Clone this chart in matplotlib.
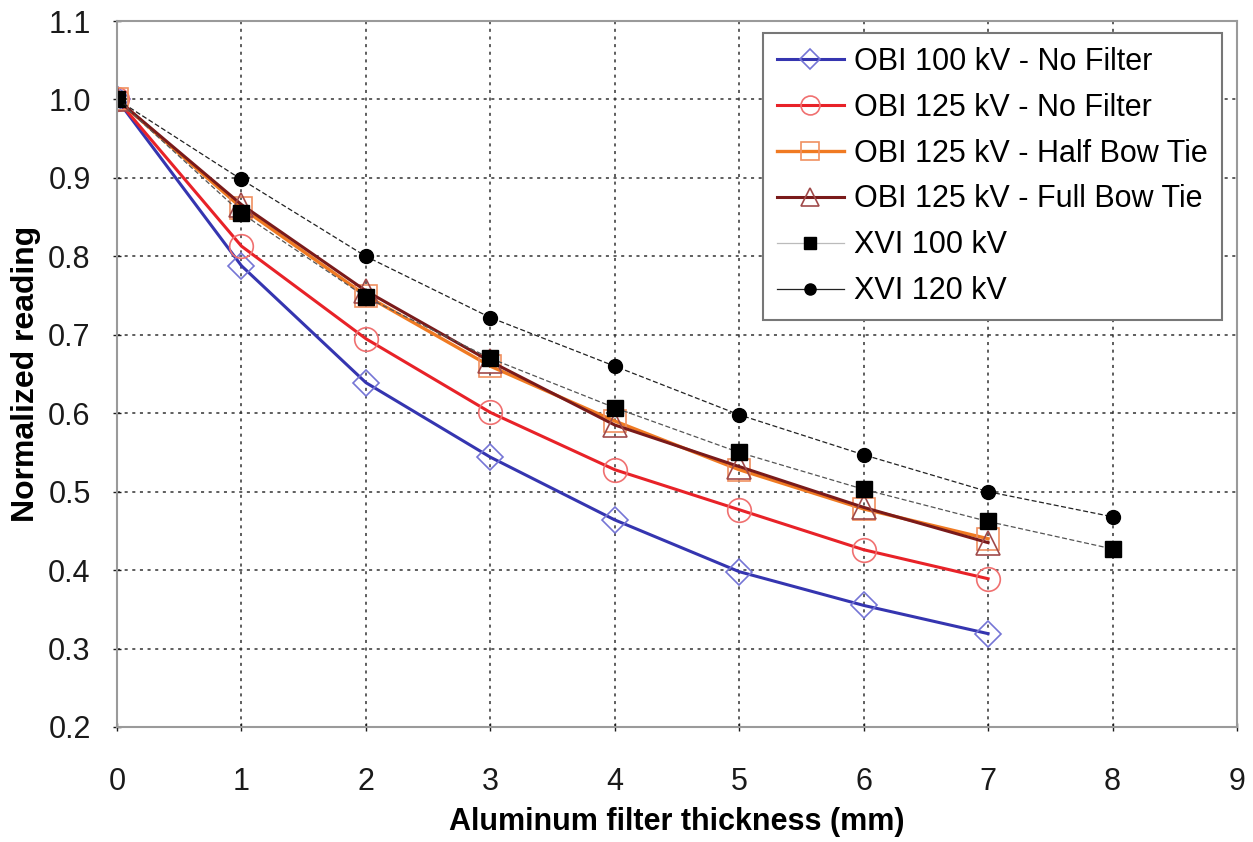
import numpy as np
import matplotlib.pyplot as plt
from matplotlib.ticker import FormatStrFormatter

plt.rcParams['font.family'] = ['Liberation Sans', 'DejaVu Sans']

# data
thickness_obi = [0, 1, 2, 3, 4, 5, 6, 7]
thickness_xvi = [0, 1, 2, 3, 4, 5, 6, 7, 8]

obi_100_nofilter = [1.0, 0.788, 0.639, 0.544, 0.464, 0.398, 0.355, 0.319]
obi_125_nofilter = [1.0, 0.813, 0.695, 0.601, 0.528, 0.477, 0.426, 0.389]
obi_125_halfbow = [1.0, 0.862, 0.750, 0.660, 0.590, 0.528, 0.478, 0.440]
obi_125_fullbow = [1.0, 0.866, 0.756, 0.666, 0.585, 0.532, 0.480, 0.435]
xvi_100 = [1.0, 0.855, 0.748, 0.670, 0.607, 0.550, 0.503, 0.462, 0.427]
xvi_120 = [1.0, 0.898, 0.800, 0.722, 0.660, 0.598, 0.547, 0.500, 0.468]

labels = [
    "OBI 100 kV - No Filter",
    "OBI 125 kV - No Filter",
    "OBI 125 kV - Half Bow Tie",
    "OBI 125 kV - Full Bow Tie",
    "XVI 100 kV",
    "XVI 120 kV",
]

fig = plt.figure(figsize=(12.53, 8.42), dpi=100)
ax = fig.add_axes([0.0934, 0.1366, 0.8938, 0.8384])

ax.plot(thickness_obi, obi_100_nofilter, color='#3535b0', lw=2.2,
        marker='D', ms=13, mfc='none', mec='#7575d5', mew=1.2, label=labels[0])
ax.plot(thickness_obi, obi_125_nofilter, color='#e82228', lw=2.2,
        marker='o', ms=17, mfc='none', mec='#f07070', mew=1.2, label=labels[1])
ax.plot(thickness_obi, obi_125_halfbow, color='#f07a22', lw=2.4,
        marker='s', ms=16, mfc='none', mec='#f09060', mew=1.2, label=labels[2])
ax.plot(thickness_obi, obi_125_fullbow, color='#7a1a1a', lw=2.2,
        marker='^', ms=17, mfc='none', mec='#a04a4a', mew=1.2, label=labels[3])
ax.plot(thickness_xvi, xvi_100, color='#555555', lw=0.9, ls=(0, (4, 2)),
        marker='s', ms=11, mfc='black', mec='black', label=labels[4])
ax.plot(thickness_xvi, xvi_120, color='#222222', lw=0.9, ls=(0, (4, 2)),
        marker='o', ms=10, mfc='black', mec='black', label=labels[5])

ax.set_xlim(0, 9)
ax.set_ylim(0.2, 1.1)
ax.set_xticks(np.arange(0, 10, 1))
ax.set_yticks(np.arange(0.2, 1.11, 0.1))
ax.yaxis.set_major_formatter(FormatStrFormatter('%.1f'))
ax.tick_params(labelsize=22, colors='#1a1a1a', direction='inout', length=6,
               width=1)
ax.tick_params(axis='y', pad=16)
ax.tick_params(axis='x', pad=26)

ax.grid(True, color='#333333', ls=(0, (2, 3)), lw=1.1)
for s in ax.spines.values():
    s.set_color('#9a9a9a')
    s.set_linewidth(1.5)

ax.set_xlabel("Aluminum filter thickness (mm)", fontsize=22, fontweight='bold',
              labelpad=7)
ax.set_ylabel("Normalized reading", fontsize=23, fontweight='bold', labelpad=5)

leg = ax.legend(loc='upper right', bbox_to_anchor=(0.9866, 0.983),
                borderaxespad=0, fontsize=22, fancybox=False, framealpha=1,
                edgecolor='#777777', handlelength=2.2, labelspacing=0.52,
                borderpad=0.45, handletextpad=0.35, markerscale=0.8)
leg.get_frame().set_linewidth(1.5)
# legend swatch for XVI 100 kV is a light grey solid line in the original
leg.get_lines()[4].set_color('#bbbbbb')
leg.get_lines()[4].set_linestyle('-')
leg.get_lines()[5].set_linestyle('-')

fig.savefig("out.png", dpi=100)
